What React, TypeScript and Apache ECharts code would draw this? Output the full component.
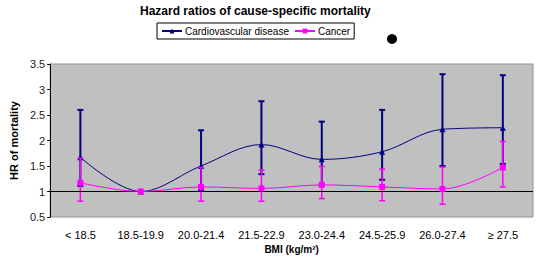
import React, { useEffect, useRef } from "react";
import * as echarts from "echarts";

const categories = ["< 18.5", "18.5-19.9", "20.0-21.4", "21.5-22.9", "23.0-24.4", "24.5-25.9", "26.0-27.4", "≥ 27.5"];
const cardioHR = [1.67, 1.0, 1.5, 1.92, 1.63, 1.78, 2.22, 2.25];
const cardioLow: (number | null)[] = [1.11, null, 1.03, 1.34, 1.13, 1.23, 1.5, 1.54];
const cardioHigh: (number | null)[] = [2.6, null, 2.2, 2.77, 2.37, 2.6, 3.3, 3.28];
const cancerHR = [1.17, 1.0, 1.09, 1.06, 1.13, 1.09, 1.05, 1.47];
const cancerLow: (number | null)[] = [0.81, null, 0.81, 0.81, 0.86, 0.82, 0.75, 1.09];
const cancerHigh: (number | null)[] = [1.65, null, 1.47, 1.42, 1.49, 1.44, 1.48, 1.98];

const NAVY = "#000080";
const MAGENTA = "#FF00FF";
const FONT = "Liberation Sans, Arial, sans-serif";

function errData(low: (number | null)[], high: (number | null)[]) {
  const out: number[][] = [];
  low.forEach((l, i) => {
    const h = high[i];
    if (l != null && h != null) out.push([i, l, h]);
  });
  return out;
}

function makeRender(color: string, lw: number) {
  return (params: any, api: any) => {
    const x = api.value(0);
    const lo = api.coord([x, api.value(1)]);
    const hi = api.coord([x, api.value(2)]);
    const w = 3;
    const style = { stroke: color, lineWidth: lw };
    return {
      type: "group",
      children: [
        { type: "line", shape: { x1: lo[0], y1: lo[1], x2: hi[0], y2: hi[1] }, style },
        { type: "line", shape: { x1: lo[0] - w, y1: lo[1], x2: lo[0] + w, y2: lo[1] }, style },
        { type: "line", shape: { x1: hi[0] - w, y1: hi[1], x2: hi[0] + w, y2: hi[1] }, style },
      ],
    };
  };
}

export default function App() {
  const ref = useRef<HTMLDivElement>(null);
  useEffect(() => {
    if (!ref.current) return;
    const chart = echarts.init(ref.current, undefined, { renderer: "svg" });
    chart.setOption({
      animation: false,
      backgroundColor: "#ffffff",
      textStyle: { fontFamily: FONT },
      title: {
        text: "Hazard ratios of cause-specific mortality",
        left: 135,
        top: 0,
        textStyle: { fontFamily: FONT, fontSize: 12, fontWeight: "bold", color: "#000" },
      },
      legend: {
        left: 157,
        top: 23,
        padding: [3, 4],
        borderColor: "#000",
        borderWidth: 1,
        itemWidth: 20,
        itemHeight: 6,
        itemGap: 5,
        textStyle: { fontFamily: FONT, fontSize: 10, color: "#000", padding: [0, 0, 0, -2] },
        data: ["Cardiovascular disease", "Cancer"],
      },
      grid: {
        left: 40,
        right: 4,
        top: 64,
        bottom: 49,
        show: true,
        backgroundColor: "#C0C0C0",
        borderColor: "#909090",
        borderWidth: 1,
      },
      xAxis: {
        type: "category",
        data: categories,
        boundaryGap: true,
        name: "BMI (kg/m²)",
        nameLocation: "middle",
        nameGap: 27,
        nameTextStyle: { fontFamily: FONT, fontSize: 10, fontWeight: "bold", color: "#000" },
        axisLine: { show: false },
        axisTick: { show: false },
        axisLabel: { fontFamily: FONT, fontSize: 11, color: "#000", margin: 12, interval: 0 },
      },
      yAxis: {
        type: "value",
        min: 0.5,
        max: 3.5,
        interval: 0.5,
        name: "HR of mortality",
        nameLocation: "middle",
        nameGap: 27,
        nameTextStyle: { fontFamily: FONT, fontSize: 11, fontWeight: "bold", color: "#000" },
        axisLine: { show: true, lineStyle: { color: "#000", width: 1 } },
        axisTick: { show: true, length: 3, lineStyle: { color: "#000" } },
        splitLine: { show: false },
        axisLabel: { fontFamily: FONT, fontSize: 11, color: "#222", margin: 5 },
      },
      graphic: [
        { type: "circle", shape: { cx: 392, cy: 39, r: 5 }, style: { fill: "#000" } },
      ],
      series: [
        {
          type: "custom",
          name: "cardioErr",
          renderItem: makeRender(NAVY, 2),
          data: errData(cardioLow, cardioHigh),
          encode: { x: 0, y: [1, 2] },
          z: 2,
          silent: true,
        },
        {
          type: "line",
          name: "Cardiovascular disease",
          data: cardioHR,
          smooth: 0.35,
          symbol: "triangle",
          symbolSize: 6,
          itemStyle: { color: NAVY },
          lineStyle: { color: NAVY, width: 1 },
          z: 3,
          markLine: {
            silent: true,
            symbol: "none",
            label: { show: false },
            lineStyle: { color: "#000", width: 1, type: "solid" },
            data: [{ yAxis: 1 }],
          },
        },
        {
          type: "custom",
          name: "cancerErr",
          renderItem: makeRender(MAGENTA, 1.5),
          data: errData(cancerLow, cancerHigh),
          encode: { x: 0, y: [1, 2] },
          z: 4,
          silent: true,
        },
        {
          type: "line",
          name: "Cancer",
          data: cancerHR,
          smooth: 0.35,
          symbol: "rect",
          symbolSize: 6,
          itemStyle: { color: MAGENTA },
          lineStyle: { color: MAGENTA, width: 1 },
          z: 5,
        },
      ],
    });
    return () => chart.dispose();
  }, []);
  return <div ref={ref} style={{ position: "fixed", left: 0, top: 0, width: 537, height: 266 }} />;
}
